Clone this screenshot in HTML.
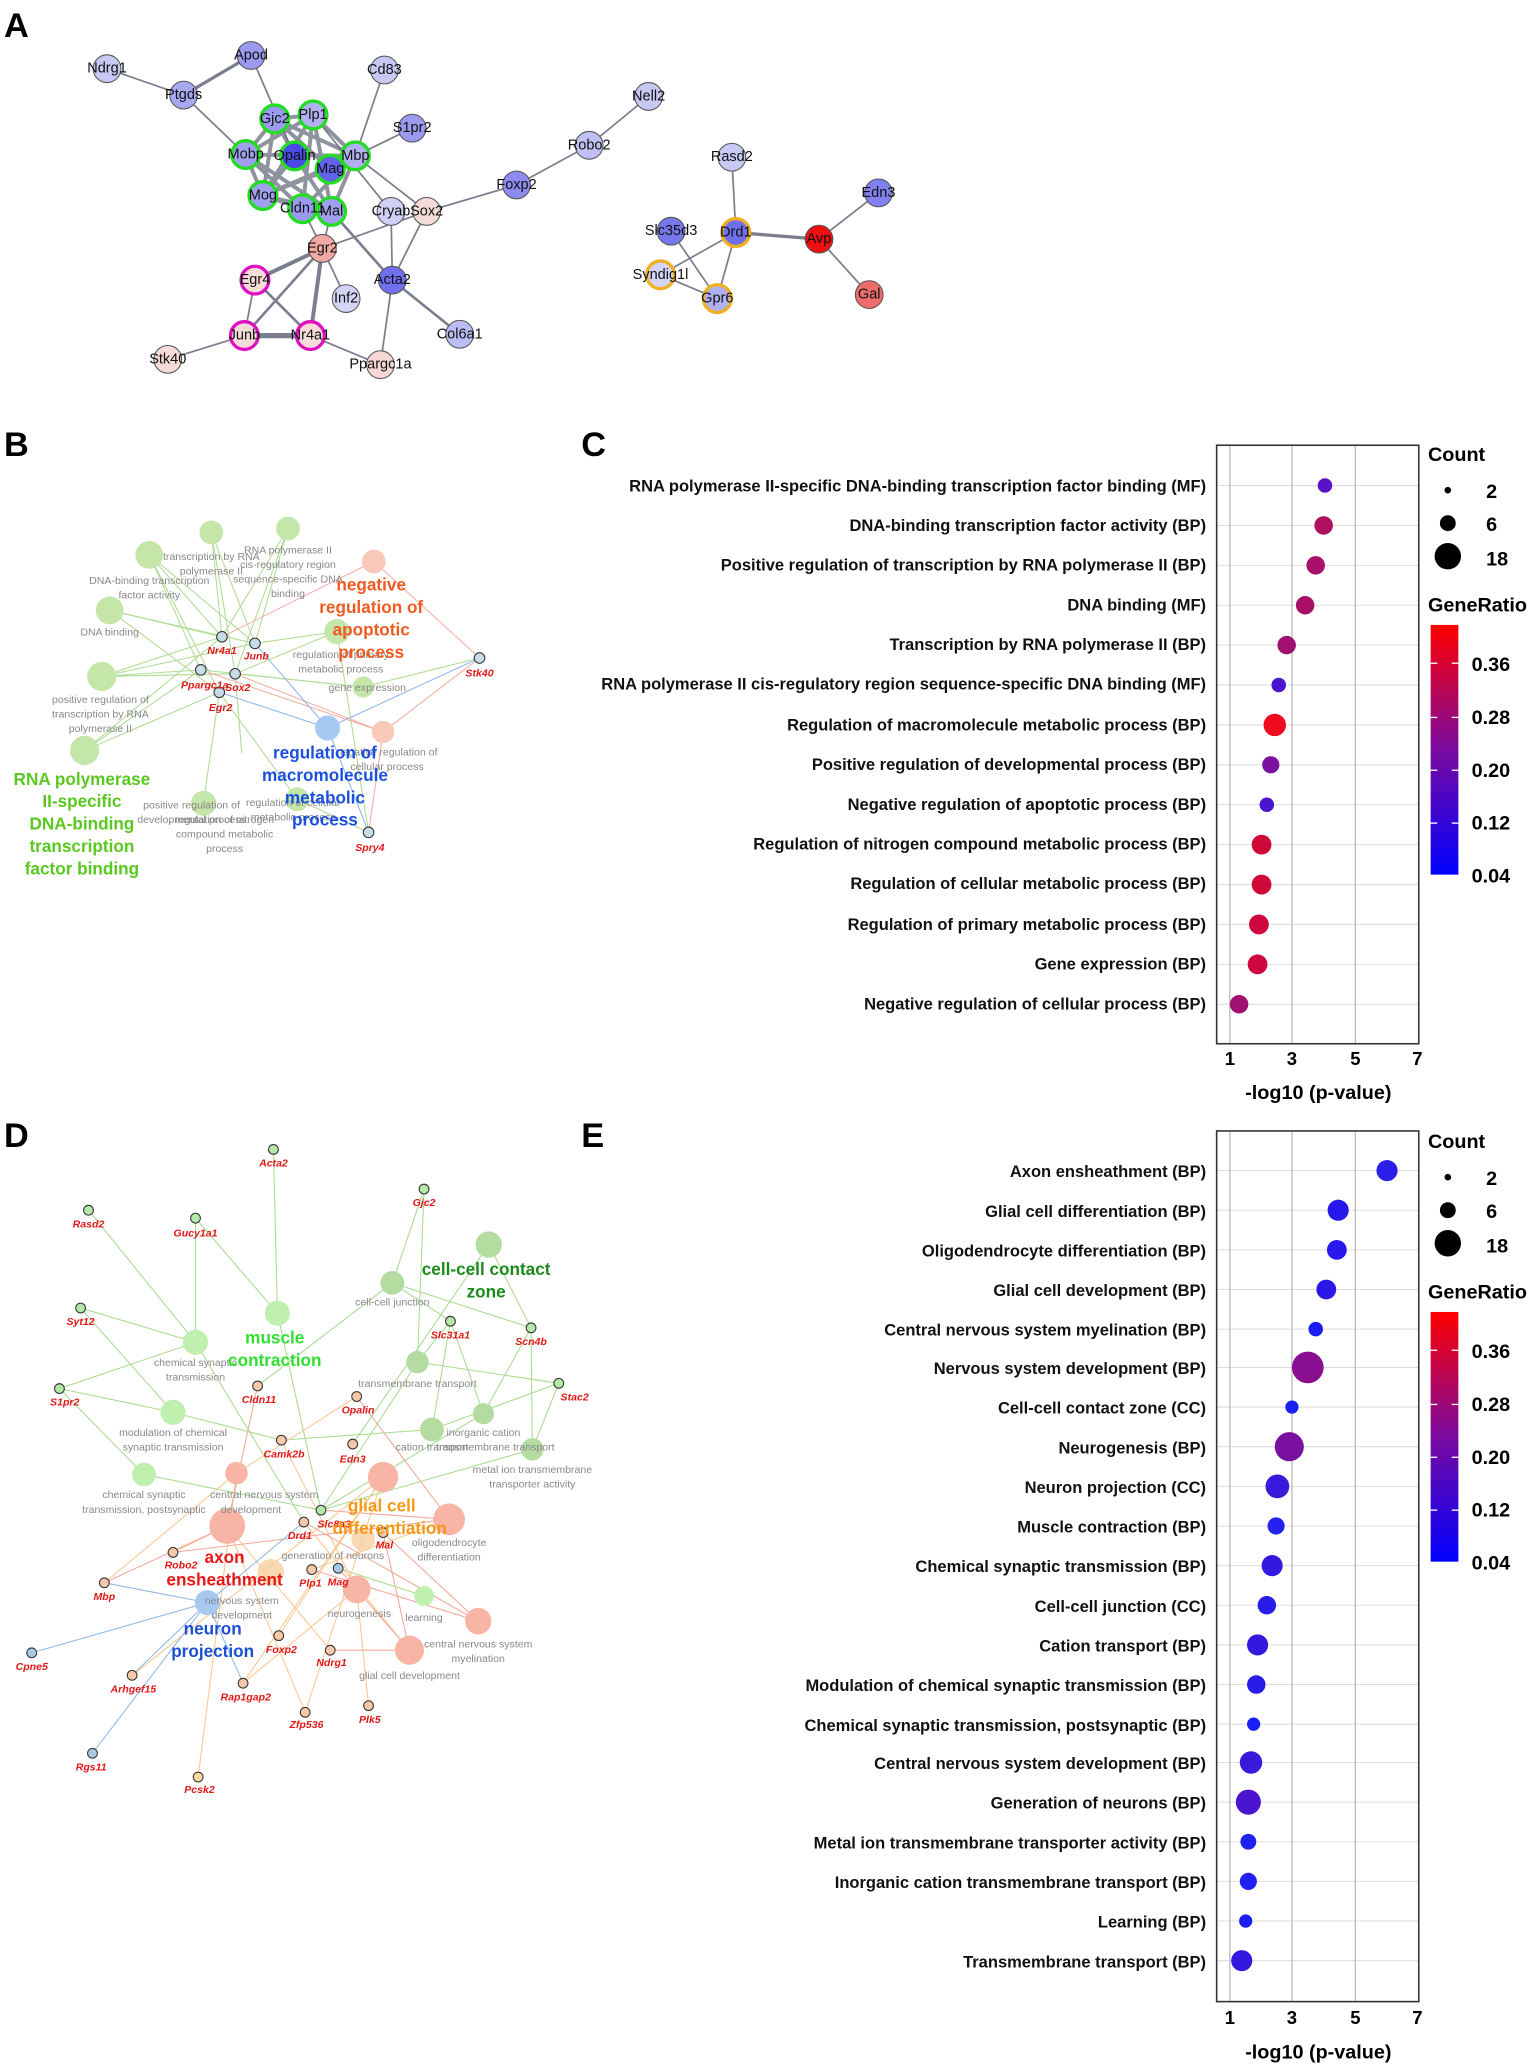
<!DOCTYPE html>
<html><head><meta charset="utf-8"><style>
html,body{margin:0;padding:0;background:#fff}
svg{display:block}
text{font-family:"Liberation Sans",Arial,sans-serif}
.pl{font-size:26px;font-weight:bold}
.na{font-size:11px;text-anchor:middle;dominant-baseline:central;fill:#111}
.tl{font-size:12.5px;font-weight:bold;text-anchor:end;fill:#111}
.tk{font-size:14px;font-weight:bold;text-anchor:middle}
.lg{font-size:15px;font-weight:bold}
.gt{font-size:8px;fill:#888;text-anchor:middle}
.gn{font-size:8px;fill:#e01818;font-style:italic;font-weight:bold;text-anchor:middle}
</style></head><body>
<svg width="1535" height="2069" viewBox="0 0 1162 1566" preserveAspectRatio="none" xmlns="http://www.w3.org/2000/svg">
<rect width="1162" height="1566" fill="#fff"/>
<text class="pl" x="3" y="28">A</text>
<text class="pl" x="3" y="345">B</text>
<text class="pl" x="440" y="345">C</text>
<text class="pl" x="3" y="868">D</text>
<text class="pl" x="440" y="868">E</text>

<!-- Panel A edges -->
<g stroke="#7a7e8e" stroke-width="1.3" fill="none">
<line x1="81" y1="52" x2="139" y2="72"/><line x1="139" y1="72" x2="190" y2="42" stroke-width="2.5"/>
<line x1="139" y1="72" x2="186" y2="117"/><line x1="190" y1="42" x2="223" y2="118"/>
<line x1="291" y1="53" x2="269" y2="118"/><line x1="312" y1="97" x2="269" y2="118"/>
<line x1="491" y1="73" x2="446" y2="110"/><line x1="446" y1="110" x2="391" y2="140"/>
<line x1="391" y1="140" x2="323" y2="160"/><line x1="323" y1="160" x2="244" y2="188"/>
<line x1="296" y1="160" x2="297" y2="212"/><line x1="323" y1="160" x2="297" y2="212"/>
<line x1="269" y1="118" x2="323" y2="160"/><line x1="237" y1="87" x2="296" y2="160"/>
<line x1="251" y1="160" x2="297" y2="212" stroke-width="2"/>
<line x1="244" y1="188" x2="193" y2="212" stroke-width="3"/><line x1="244" y1="188" x2="185" y2="254" stroke-width="2"/>
<line x1="244" y1="188" x2="235" y2="254" stroke-width="3"/><line x1="244" y1="188" x2="262" y2="226"/>
<line x1="193" y1="212" x2="185" y2="254"/><line x1="193" y1="212" x2="235" y2="254" stroke-width="2"/>
<line x1="185" y1="254" x2="235" y2="254" stroke-width="4"/><line x1="185" y1="254" x2="127" y2="272"/>
<line x1="235" y1="254" x2="288" y2="276"/><line x1="297" y1="212" x2="288" y2="276"/>
<line x1="297" y1="212" x2="348" y2="253" stroke-width="2"/>
<line x1="244" y1="188" x2="251" y2="160"/><line x1="244" y1="188" x2="229" y2="158"/>
<line x1="554" y1="119" x2="557" y2="176"/><line x1="557" y1="176" x2="620" y2="181" stroke-width="2.5"/>
<line x1="620" y1="181" x2="665" y2="146"/><line x1="620" y1="181" x2="658" y2="223"/>
<line x1="557" y1="176" x2="543" y2="226"/><line x1="557" y1="176" x2="500" y2="208"/>
<line x1="508" y1="175" x2="543" y2="226"/><line x1="500" y1="208" x2="543" y2="226"/>
</g>
<g stroke="#6a6e80" stroke-width="3" opacity="0.75">
<line x1="208" y1="90" x2="237" y2="87"/><line x1="208" y1="90" x2="186" y2="117"/><line x1="208" y1="90" x2="223" y2="118"/>
<line x1="208" y1="90" x2="269" y2="118"/><line x1="208" y1="90" x2="250" y2="128"/><line x1="208" y1="90" x2="199" y2="148"/>
<line x1="237" y1="87" x2="186" y2="117"/><line x1="237" y1="87" x2="269" y2="118"/><line x1="237" y1="87" x2="199" y2="148"/>
<line x1="237" y1="87" x2="229" y2="158"/><line x1="237" y1="87" x2="251" y2="160"/><line x1="186" y1="117" x2="269" y2="118"/>
<line x1="186" y1="117" x2="199" y2="148"/><line x1="186" y1="117" x2="229" y2="158"/><line x1="186" y1="117" x2="251" y2="160"/>
<line x1="223" y1="118" x2="199" y2="148"/><line x1="223" y1="118" x2="251" y2="160"/><line x1="269" y1="118" x2="199" y2="148"/>
<line x1="269" y1="118" x2="229" y2="158"/><line x1="269" y1="118" x2="251" y2="160"/><line x1="250" y1="128" x2="199" y2="148"/>
<line x1="199" y1="148" x2="229" y2="158"/><line x1="199" y1="148" x2="251" y2="160"/><line x1="229" y1="158" x2="251" y2="160"/>
</g>
<g stroke="#555" stroke-width="0.8">
<circle cx="81" cy="52" r="10.5" fill="#c8c8f4"/><circle cx="190" cy="42" r="10.5" fill="#9a9af0"/>
<circle cx="139" cy="72" r="10.5" fill="#a8a8f2"/><circle cx="291" cy="53" r="10.5" fill="#c8c8f4"/>
<circle cx="491" cy="73" r="10.5" fill="#c8c8f4"/><circle cx="312" cy="97" r="10.5" fill="#9a9af0"/>
<circle cx="446" cy="110" r="10.5" fill="#c0c0f4"/><circle cx="391" cy="140" r="10.5" fill="#8c8cf0"/>
<circle cx="296" cy="160" r="10.5" fill="#d0d0f6"/><circle cx="323" cy="160" r="10.5" fill="#f6dcd8"/>
<circle cx="244" cy="188" r="10.5" fill="#f2a8a4"/><circle cx="262" cy="226" r="10.5" fill="#d4d4f6"/>
<circle cx="297" cy="212" r="10.5" fill="#7070ee"/><circle cx="348" cy="253" r="10.5" fill="#bcbcf4"/>
<circle cx="127" cy="272" r="10.5" fill="#f6dcd8"/><circle cx="288" cy="276" r="10.5" fill="#f6d8d4"/>
<circle cx="554" cy="119" r="10.5" fill="#c8c8f4"/><circle cx="665" cy="146" r="10.5" fill="#8080ee"/>
<circle cx="508" cy="175" r="10.5" fill="#7878ee"/><circle cx="620" cy="181" r="10.5" fill="#ee1010"/>
<circle cx="658" cy="223" r="10.5" fill="#ee6c6c"/>
</g>
<g stroke="#22dd22" stroke-width="2.5">
<circle cx="208" cy="90" r="10.5" fill="#9a9af0"/><circle cx="237" cy="87" r="10.5" fill="#b0b0f2"/>
<circle cx="186" cy="117" r="10.5" fill="#a0a0f0"/><circle cx="269" cy="118" r="10.5" fill="#b0b0f2"/>
<circle cx="223" cy="118" r="10.5" fill="#4a4ae8"/><circle cx="250" cy="128" r="10.5" fill="#6262ea"/>
<circle cx="199" cy="148" r="10.5" fill="#a0a0f0"/><circle cx="229" cy="158" r="10.5" fill="#9a9af0"/>
<circle cx="251" cy="160" r="10.5" fill="#a0a0f0"/>
</g>
<g stroke="#e010c0" stroke-width="2.5">
<circle cx="193" cy="212" r="10.5" fill="#f6dcd8"/><circle cx="185" cy="254" r="10.5" fill="#f6dcd8"/><circle cx="235" cy="254" r="10.5" fill="#f6dcd8"/>
</g>
<g stroke="#f0b020" stroke-width="2.5">
<circle cx="557" cy="176" r="10.5" fill="#7070ee"/><circle cx="500" cy="208" r="10.5" fill="#d4d4f6"/><circle cx="543" cy="226" r="10.5" fill="#b0b0f2"/>
</g>
<g class="na">
<text class="na" x="81" y="52">Ndrg1</text><text class="na" x="190" y="42">Apod</text><text class="na" x="139" y="72">Ptgds</text>
<text class="na" x="291" y="53">Cd83</text><text class="na" x="491" y="73">Nell2</text><text class="na" x="312" y="97">S1pr2</text>
<text class="na" x="208" y="90">Gjc2</text><text class="na" x="237" y="87">Plp1</text><text class="na" x="446" y="110">Robo2</text>
<text class="na" x="186" y="117">Mobp</text><text class="na" x="223" y="118">Opalin</text><text class="na" x="269" y="118">Mbp</text>
<text class="na" x="250" y="128">Mag</text><text class="na" x="199" y="148">Mog</text><text class="na" x="229" y="158">Cldn11</text>
<text class="na" x="251" y="160">Mal</text><text class="na" x="296" y="160">Cryab</text><text class="na" x="323" y="160">Sox2</text>
<text class="na" x="391" y="140">Foxp2</text><text class="na" x="554" y="119">Rasd2</text><text class="na" x="665" y="146">Edn3</text>
<text class="na" x="508" y="175">Slc35d3</text><text class="na" x="557" y="176">Drd1</text><text class="na" x="620" y="181">Avp</text>
<text class="na" x="244" y="188">Egr2</text><text class="na" x="193" y="212">Egr4</text><text class="na" x="262" y="226">Inf2</text>
<text class="na" x="297" y="212">Acta2</text><text class="na" x="500" y="208">Syndig1l</text><text class="na" x="543" y="226">Gpr6</text>
<text class="na" x="658" y="223">Gal</text><text class="na" x="185" y="254">Junb</text><text class="na" x="235" y="254">Nr4a1</text>
<text class="na" x="348" y="253">Col6a1</text><text class="na" x="127" y="272">Stk40</text><text class="na" x="288" y="276">Ppargc1a</text>
</g>

<!-- Panel B -->
<g stroke="#9cd47a" stroke-width="0.8" opacity="0.8">
<line x1="168" y1="482" x2="113" y2="420"/><line x1="168" y1="482" x2="160" y2="403"/><line x1="168" y1="482" x2="218" y2="400"/>
<line x1="168" y1="482" x2="83" y2="462"/><line x1="168" y1="482" x2="77" y2="512"/><line x1="168" y1="482" x2="64" y2="568"/>
<line x1="193" y1="487" x2="113" y2="420"/><line x1="193" y1="487" x2="160" y2="403"/><line x1="193" y1="487" x2="218" y2="400"/>
<line x1="193" y1="487" x2="83" y2="462"/><line x1="193" y1="487" x2="77" y2="512"/><line x1="193" y1="487" x2="255" y2="478"/>
<line x1="152" y1="507" x2="113" y2="420"/><line x1="152" y1="507" x2="77" y2="512"/><line x1="152" y1="507" x2="64" y2="568"/>
<line x1="178" y1="510" x2="160" y2="403"/><line x1="178" y1="510" x2="218" y2="400"/><line x1="178" y1="510" x2="77" y2="512"/>
<line x1="178" y1="510" x2="183" y2="570"/><line x1="178" y1="510" x2="255" y2="478"/><line x1="178" y1="510" x2="275" y2="520"/>
<line x1="166" y1="524" x2="64" y2="568"/><line x1="166" y1="524" x2="154" y2="608"/><line x1="166" y1="524" x2="225" y2="605"/>
<line x1="166" y1="524" x2="83" y2="462"/><line x1="166" y1="524" x2="113" y2="420"/><line x1="363" y1="498" x2="275" y2="520"/>
<line x1="279" y1="630" x2="255" y2="478"/><line x1="279" y1="630" x2="225" y2="605"/><line x1="152" y1="507" x2="275" y2="520"/>
</g>
<g stroke="#f4b0a0" stroke-width="0.8">
<line x1="168" y1="482" x2="283" y2="425"/><line x1="363" y1="498" x2="283" y2="425"/><line x1="363" y1="498" x2="290" y2="554"/>
<line x1="279" y1="630" x2="290" y2="554"/><line x1="178" y1="510" x2="290" y2="554"/><line x1="152" y1="507" x2="290" y2="554"/>
</g>
<g stroke="#90b8f0" stroke-width="0.8">
<line x1="193" y1="487" x2="248" y2="551"/><line x1="166" y1="524" x2="248" y2="551"/><line x1="363" y1="498" x2="248" y2="551"/><line x1="279" y1="630" x2="248" y2="551"/>
</g>
<g fill="#c4e6a8">
<circle cx="113" cy="420" r="10.5"/><circle cx="160" cy="403" r="9"/><circle cx="218" cy="400" r="9"/>
<circle cx="83" cy="462" r="10.5"/><circle cx="77" cy="512" r="11"/><circle cx="64" cy="568" r="11"/>
<circle cx="154" cy="608" r="9.5"/><circle cx="225" cy="605" r="9"/><circle cx="255" cy="478" r="9.5"/><circle cx="275" cy="520" r="8"/>
</g>
<circle cx="283" cy="425" r="9" fill="#f8c8b8"/><circle cx="290" cy="554" r="8.5" fill="#f8c8b8"/>
<circle cx="248" cy="551" r="9.5" fill="#a8c8f4"/>
<g stroke="#333" stroke-width="0.8" fill="#c8dce8">
<circle cx="168" cy="482" r="4"/><circle cx="193" cy="487" r="4"/><circle cx="152" cy="507" r="4"/>
<circle cx="178" cy="510" r="4"/><circle cx="166" cy="524" r="4"/><circle cx="363" cy="498" r="4"/><circle cx="279" cy="630" r="4"/>
</g>
<text class="gt" x="160" y="424">transcription by RNA</text><text class="gt" x="160" y="435">polymerase II</text>
<text class="gt" x="218" y="419">RNA polymerase II</text><text class="gt" x="218" y="430">cis-regulatory region</text>
<text class="gt" x="218" y="441">sequence-specific DNA</text><text class="gt" x="218" y="452">binding</text>
<text class="gt" x="113" y="442">DNA-binding transcription</text><text class="gt" x="113" y="453">factor activity</text>
<text class="gt" x="83" y="481">DNA binding</text>
<text class="gt" x="76" y="532">positive regulation of</text><text class="gt" x="76" y="543">transcription by RNA</text><text class="gt" x="76" y="554">polymerase II</text>
<text class="gt" x="258" y="498">regulation of primary</text><text class="gt" x="258" y="509">metabolic process</text>
<text class="gt" x="278" y="523">gene expression</text>
<text class="gt" x="293" y="572">negative regulation of</text><text class="gt" x="293" y="583">cellular process</text>
<text class="gt" x="145" y="612">positive regulation of</text><text class="gt" x="145" y="623">developmental process</text>
<text class="gt" x="170" y="623">regulation of nitrogen</text><text class="gt" x="170" y="634">compound metabolic</text><text class="gt" x="170" y="645">process</text>
<text class="gt" x="222" y="610">regulation of cellular</text><text class="gt" x="222" y="621">metabolic process</text>
<text class="gn" x="168" y="495">Nr4a1</text><text class="gn" x="194" y="499">Junb</text><text class="gn" x="155" y="521">Ppargc1a</text>
<text class="gn" x="180" y="523">Sox2</text><text class="gn" x="167" y="538">Egr2</text><text class="gn" x="363" y="512">Stk40</text><text class="gn" x="280" y="644">Spry4</text>
<g font-weight="bold" font-size="13" text-anchor="middle" fill="#f05a20">
<text x="281" y="447">negative</text><text x="281" y="464">regulation of</text><text x="281" y="481">apoptotic</text><text x="281" y="498">process</text></g>
<g font-weight="bold" font-size="13" text-anchor="middle" fill="#1a50e0">
<text x="246" y="574">regulation of</text><text x="246" y="591">macromolecule</text><text x="246" y="608">metabolic</text><text x="246" y="625">process</text></g>
<g font-weight="bold" font-size="13" text-anchor="middle" fill="#5ac820">
<text x="62" y="594">RNA polymerase</text><text x="62" y="611">II-specific</text><text x="62" y="628">DNA-binding</text>
<text x="62" y="645">transcription</text><text x="62" y="662">factor binding</text></g>

<!-- Panel D -->
<g stroke="#a8dc90" stroke-width="0.8">
<line x1="207" y1="870" x2="210" y2="994"/><line x1="67" y1="916" x2="148" y2="1016"/><line x1="148" y1="922" x2="148" y2="1016"/>
<line x1="148" y1="922" x2="210" y2="994"/><line x1="61" y1="990" x2="148" y2="1016"/><line x1="61" y1="990" x2="131" y2="1069"/>
<line x1="45" y1="1051" x2="148" y2="1016"/><line x1="45" y1="1051" x2="131" y2="1069"/><line x1="45" y1="1051" x2="109" y2="1116"/>
<line x1="321" y1="900" x2="297" y2="971"/><line x1="321" y1="900" x2="316" y2="1031"/><line x1="341" y1="1000" x2="297" y2="971"/>
<line x1="341" y1="1000" x2="316" y2="1031"/><line x1="341" y1="1000" x2="366" y2="1070"/><line x1="341" y1="1000" x2="327" y2="1082"/>
<line x1="402" y1="1005" x2="370" y2="942"/><line x1="402" y1="1005" x2="297" y2="971"/><line x1="402" y1="1005" x2="403" y2="1097"/>
<line x1="402" y1="1005" x2="366" y2="1070"/><line x1="423" y1="1047" x2="316" y2="1031"/><line x1="423" y1="1047" x2="327" y2="1082"/>
<line x1="423" y1="1047" x2="403" y2="1097"/><line x1="195" y1="1049" x2="297" y2="971"/><line x1="213" y1="1090" x2="327" y2="1082"/>
<line x1="213" y1="1090" x2="131" y2="1069"/><line x1="243" y1="1143" x2="316" y2="1031"/><line x1="243" y1="1143" x2="366" y2="1070"/>
<line x1="243" y1="1143" x2="210" y2="994"/><line x1="243" y1="1143" x2="109" y2="1116"/><line x1="267" y1="1093" x2="370" y2="942"/>
<line x1="230" y1="1152" x2="148" y2="1016"/><line x1="256" y1="1187" x2="321" y2="1208"/><line x1="243" y1="1143" x2="403" y2="1097"/>
</g>
<g stroke="#f8c890" stroke-width="0.8">
<line x1="131" y1="1175" x2="172" y2="1155"/><line x1="79" y1="1198" x2="179" y2="1115"/><line x1="211" y1="1238" x2="290" y2="1118"/>
<line x1="250" y1="1249" x2="172" y2="1155"/><line x1="184" y1="1274" x2="290" y2="1118"/><line x1="231" y1="1296" x2="172" y2="1155"/>
<line x1="279" y1="1291" x2="270" y2="1203"/><line x1="150" y1="1345" x2="179" y2="1115"/><line x1="236" y1="1188" x2="340" y2="1150"/>
<line x1="213" y1="1090" x2="270" y2="1203"/><line x1="270" y1="1057" x2="179" y2="1115"/><line x1="230" y1="1152" x2="310" y2="1249"/>
<line x1="184" y1="1274" x2="270" y2="1203"/><line x1="231" y1="1296" x2="290" y2="1118"/><line x1="100" y1="1268" x2="290" y2="1118"/>
</g>
<g stroke="#f4a898" stroke-width="0.8">
<line x1="131" y1="1175" x2="340" y2="1150"/><line x1="79" y1="1198" x2="172" y2="1155"/><line x1="236" y1="1188" x2="362" y2="1227"/>
<line x1="256" y1="1187" x2="310" y2="1249"/><line x1="290" y1="1160" x2="362" y2="1227"/><line x1="270" y1="1057" x2="340" y2="1150"/>
<line x1="195" y1="1049" x2="172" y2="1155"/><line x1="250" y1="1249" x2="310" y2="1249"/><line x1="230" y1="1152" x2="362" y2="1227"/>
<line x1="290" y1="1160" x2="310" y2="1249"/><line x1="243" y1="1143" x2="340" y2="1150"/>
</g>
<g stroke="#90b8e8" stroke-width="0.8">
<line x1="24" y1="1251" x2="157" y2="1213"/><line x1="70" y1="1327" x2="157" y2="1213"/><line x1="79" y1="1198" x2="157" y2="1213"/>
<line x1="184" y1="1274" x2="157" y2="1213"/><line x1="100" y1="1268" x2="157" y2="1213"/><line x1="230" y1="1152" x2="157" y2="1213"/>
</g>
<g fill="#b4dca0">
<circle cx="370" cy="942" r="10"/><circle cx="297" cy="971" r="9"/><circle cx="316" cy="1031" r="8.5"/>
<circle cx="327" cy="1082" r="9"/><circle cx="366" cy="1070" r="8"/><circle cx="403" cy="1097" r="8.5"/>
</g>
<g fill="#bff0b0">
<circle cx="210" cy="994" r="9.5"/><circle cx="148" cy="1016" r="9.5"/><circle cx="131" cy="1069" r="9.5"/><circle cx="109" cy="1116" r="9"/><circle cx="321" cy="1208" r="7.5"/>
</g>
<g fill="#f8b4a4">
<circle cx="172" cy="1155" r="13.5"/><circle cx="340" cy="1150" r="12"/><circle cx="290" cy="1118" r="11.5"/>
<circle cx="179" cy="1115" r="8.5"/><circle cx="270" cy="1203" r="10.5"/><circle cx="310" cy="1249" r="11"/><circle cx="362" cy="1227" r="10"/>
</g>
<circle cx="157" cy="1213" r="9.5" fill="#a8c8f0"/>
<circle cx="205" cy="1190" r="10" fill="#f8d0a0" opacity="0.8"/><circle cx="275" cy="1165" r="9" fill="#f8d0a0" opacity="0.8"/>
<g stroke="#333" stroke-width="0.8" fill="#b4e8a8">
<circle cx="207" cy="870" r="3.7"/><circle cx="67" cy="916" r="3.7"/><circle cx="148" cy="922" r="3.7"/><circle cx="321" cy="900" r="3.7"/>
<circle cx="61" cy="990" r="3.7"/><circle cx="341" cy="1000" r="3.7"/><circle cx="402" cy="1005" r="3.7"/><circle cx="45" cy="1051" r="3.7"/>
<circle cx="423" cy="1047" r="3.7"/><circle cx="243" cy="1143" r="3.7"/>
</g>
<g stroke="#333" stroke-width="0.8" fill="#f4c8a8">
<circle cx="195" cy="1049" r="3.7"/><circle cx="270" cy="1057" r="3.7"/><circle cx="213" cy="1090" r="3.7"/><circle cx="267" cy="1093" r="3.7"/>
<circle cx="230" cy="1152" r="3.7"/><circle cx="290" cy="1160" r="3.7"/><circle cx="131" cy="1175" r="3.7"/><circle cx="79" cy="1198" r="3.7"/>
<circle cx="236" cy="1188" r="3.7"/><circle cx="256" cy="1187" r="3.7" fill="#a8c8e8"/><circle cx="211" cy="1238" r="3.7"/><circle cx="250" cy="1249" r="3.7"/>
<circle cx="100" cy="1268" r="3.7"/><circle cx="184" cy="1274" r="3.7"/><circle cx="231" cy="1296" r="3.7"/><circle cx="279" cy="1291" r="3.7"/>
<circle cx="150" cy="1345" r="3.7" fill="#f8d8a0"/><circle cx="24" cy="1251" r="3.7" fill="#a8c8e8"/><circle cx="70" cy="1327" r="3.7" fill="#a8c8e8"/>
</g>
<g class="gn">
<text class="gn" x="207" y="883">Acta2</text><text class="gn" x="67" y="929">Rasd2</text><text class="gn" x="148" y="936">Gucy1a1</text>
<text class="gn" x="321" y="913">Gjc2</text><text class="gn" x="61" y="1003">Syt12</text><text class="gn" x="341" y="1013">Slc31a1</text>
<text class="gn" x="402" y="1018">Scn4b</text><text class="gn" x="49" y="1064">S1pr2</text><text class="gn" x="435" y="1060">Stac2</text>
<text class="gn" x="196" y="1062">Cldn11</text><text class="gn" x="271" y="1070">Opalin</text><text class="gn" x="215" y="1103">Camk2b</text>
<text class="gn" x="267" y="1107">Edn3</text><text class="gn" x="253" y="1156">Slc8a3</text><text class="gn" x="227" y="1165">Drd1</text>
<text class="gn" x="291" y="1172">Mal</text><text class="gn" x="137" y="1187">Robo2</text><text class="gn" x="79" y="1211">Mbp</text>
<text class="gn" x="235" y="1201">Plp1</text><text class="gn" x="256" y="1200">Mag</text><text class="gn" x="213" y="1251">Foxp2</text>
<text class="gn" x="251" y="1261">Ndrg1</text><text class="gn" x="24" y="1264">Cpne5</text><text class="gn" x="101" y="1281">Arhgef15</text>
<text class="gn" x="186" y="1287">Rap1gap2</text><text class="gn" x="232" y="1308">Zfp536</text><text class="gn" x="280" y="1304">Plk5</text>
<text class="gn" x="69" y="1340">Rgs11</text><text class="gn" x="151" y="1357">Pcsk2</text>
</g>
<text class="gt" x="297" y="988">cell-cell junction</text>
<text class="gt" x="148" y="1034">chemical synaptic</text><text class="gt" x="148" y="1045">transmission</text>
<text class="gt" x="316" y="1050">transmembrane transport</text>
<text class="gt" x="131" y="1087">modulation of chemical</text><text class="gt" x="131" y="1098">synaptic transmission</text>
<text class="gt" x="366" y="1087">inorganic cation</text><text class="gt" x="375" y="1098">transmembrane transport</text>
<text class="gt" x="327" y="1098">cation transport</text>
<text class="gt" x="403" y="1115">metal ion transmembrane</text><text class="gt" x="403" y="1126">transporter activity</text>
<text class="gt" x="109" y="1134">chemical synaptic</text><text class="gt" x="109" y="1145">transmission, postsynaptic</text>
<text class="gt" x="200" y="1134">central nervous system</text><text class="gt" x="190" y="1145">development</text>
<text class="gt" x="340" y="1170">oligodendrocyte</text><text class="gt" x="340" y="1181">differentiation</text>
<text class="gt" x="252" y="1180">generation of neurons</text>
<text class="gt" x="183" y="1214">nervous system</text><text class="gt" x="183" y="1225">development</text>
<text class="gt" x="272" y="1224">neurogenesis</text><text class="gt" x="321" y="1227">learning</text>
<text class="gt" x="362" y="1247">central nervous system</text><text class="gt" x="362" y="1258">myelination</text>
<text class="gt" x="310" y="1271">glial cell development</text>
<g font-weight="bold" font-size="13" text-anchor="middle">
<text x="368" y="965" fill="#1a8a1a">cell-cell contact</text><text x="368" y="982" fill="#1a8a1a">zone</text>
<text x="208" y="1017" fill="#30e030">muscle</text><text x="208" y="1034" fill="#30e030">contraction</text>
<text x="289" y="1144" fill="#f49818">glial cell</text><text x="295" y="1161" fill="#f49818">differentiation</text>
<text x="170" y="1183" fill="#e81818">axon</text><text x="170" y="1200" fill="#e81818">ensheathment</text>
<text x="161" y="1237" fill="#1a50d0">neuron</text><text x="161" y="1254" fill="#1a50d0">projection</text>
</g>

<!-- Panel C -->
<defs><linearGradient id="gr" x1="0" y1="1" x2="0" y2="0">
<stop offset="0" stop-color="#0000ff"/><stop offset="0.5" stop-color="#7a0aa0"/><stop offset="1" stop-color="#ff0000"/></linearGradient></defs>
<g id="C">
<g stroke="#ddd" stroke-width="0.8">
<line x1="921" y1="367.5" x2="1074" y2="367.5"/><line x1="921" y1="397.7" x2="1074" y2="397.7"/><line x1="921" y1="427.9" x2="1074" y2="427.9"/>
<line x1="921" y1="458.1" x2="1074" y2="458.1"/><line x1="921" y1="488.3" x2="1074" y2="488.3"/><line x1="921" y1="518.5" x2="1074" y2="518.5"/>
<line x1="921" y1="548.7" x2="1074" y2="548.7"/><line x1="921" y1="578.9" x2="1074" y2="578.9"/><line x1="921" y1="609.1" x2="1074" y2="609.1"/>
<line x1="921" y1="639.3" x2="1074" y2="639.3"/><line x1="921" y1="669.5" x2="1074" y2="669.5"/><line x1="921" y1="699.7" x2="1074" y2="699.7"/>
<line x1="921" y1="729.9" x2="1074" y2="729.9"/><line x1="921" y1="760.1" x2="1074" y2="760.1"/>
</g>
<g stroke="#bbb" stroke-width="1"><line x1="931" y1="337" x2="931" y2="790"/><line x1="978" y1="337" x2="978" y2="790"/><line x1="1026" y1="337" x2="1026" y2="790"/></g>
<rect x="921" y="337" width="153" height="453" fill="none" stroke="#333" stroke-width="1.2"/>
<text class="tl" x="913" y="372">RNA polymerase II-specific DNA-binding transcription factor binding (MF)</text>
<text class="tl" x="913" y="402">DNA-binding transcription factor activity (BP)</text>
<text class="tl" x="913" y="432">Positive regulation of transcription by RNA polymerase II (BP)</text>
<text class="tl" x="913" y="462">DNA binding (MF)</text>
<text class="tl" x="913" y="492">Transcription by RNA polymerase II (BP)</text>
<text class="tl" x="913" y="522">RNA polymerase II cis-regulatory region sequence-specific DNA binding (MF)</text>
<text class="tl" x="913" y="553">Regulation of macromolecule metabolic process (BP)</text>
<text class="tl" x="913" y="583">Positive regulation of developmental process (BP)</text>
<text class="tl" x="913" y="613">Negative regulation of apoptotic process (BP)</text>
<text class="tl" x="913" y="643">Regulation of nitrogen compound metabolic process (BP)</text>
<text class="tl" x="913" y="673">Regulation of cellular metabolic process (BP)</text>
<text class="tl" x="913" y="704">Regulation of primary metabolic process (BP)</text>
<text class="tl" x="913" y="734">Gene expression (BP)</text>
<text class="tl" x="913" y="764">Negative regulation of cellular process (BP)</text>
<circle cx="1003" cy="367.5" r="5.5" fill="#5a12c8"/><circle cx="1002" cy="397.7" r="7" fill="#b0105e"/>
<circle cx="996" cy="427.9" r="7" fill="#a8106a"/><circle cx="988" cy="458.1" r="7" fill="#a81068"/>
<circle cx="974" cy="488.3" r="7" fill="#a01070"/><circle cx="968" cy="518.5" r="5.5" fill="#4a14d0"/>
<circle cx="965" cy="548.7" r="8.5" fill="#f00a1e"/><circle cx="962" cy="578.9" r="6.5" fill="#7a10a0"/>
<circle cx="959" cy="609.1" r="5.5" fill="#4816d0"/><circle cx="955" cy="639.3" r="7.5" fill="#d0083a"/>
<circle cx="955" cy="669.5" r="7.5" fill="#d0083a"/><circle cx="953" cy="699.7" r="7.5" fill="#d00840"/>
<circle cx="952" cy="729.9" r="7.5" fill="#d00840"/><circle cx="938" cy="760.1" r="7" fill="#a01070"/>
<text class="tk" x="931" y="806">1</text><text class="tk" x="978" y="806">3</text><text class="tk" x="1026" y="806">5</text><text class="tk" x="1073" y="806">7</text>
<text class="lg" x="998" y="832" text-anchor="middle">-log10 (p-value)</text>
<text class="lg" x="1081" y="349">Count</text>
<circle cx="1096" cy="371" r="2.5"/><circle cx="1096" cy="396" r="6"/><circle cx="1096" cy="421" r="10"/>
<text class="lg" x="1125" y="377">2</text><text class="lg" x="1125" y="402">6</text><text class="lg" x="1125" y="428">18</text>
<text class="lg" x="1081" y="463">GeneRatio</text>
<rect x="1083" y="473" width="21" height="189" fill="url(#gr)"/>
<g stroke="#fff" stroke-width="1"><line x1="1083" y1="502" x2="1088" y2="502"/><line x1="1099" y1="502" x2="1104" y2="502"/>
<line x1="1083" y1="543" x2="1088" y2="543"/><line x1="1099" y1="543" x2="1104" y2="543"/>
<line x1="1083" y1="583" x2="1088" y2="583"/><line x1="1099" y1="583" x2="1104" y2="583"/>
<line x1="1083" y1="623" x2="1088" y2="623"/><line x1="1099" y1="623" x2="1104" y2="623"/></g>
<text class="lg" x="1114" y="508">0.36</text><text class="lg" x="1114" y="548">0.28</text><text class="lg" x="1114" y="588">0.20</text>
<text class="lg" x="1114" y="628">0.12</text><text class="lg" x="1114" y="668">0.04</text>
</g>

<!-- Panel E -->
<g stroke="#ddd" stroke-width="0.8">
<line x1="921" y1="886" x2="1074" y2="886"/><line x1="921" y1="916" x2="1074" y2="916"/><line x1="921" y1="946" x2="1074" y2="946"/>
<line x1="921" y1="976" x2="1074" y2="976"/><line x1="921" y1="1006" x2="1074" y2="1006"/><line x1="921" y1="1035" x2="1074" y2="1035"/>
<line x1="921" y1="1065" x2="1074" y2="1065"/><line x1="921" y1="1095" x2="1074" y2="1095"/><line x1="921" y1="1125" x2="1074" y2="1125"/>
<line x1="921" y1="1155" x2="1074" y2="1155"/><line x1="921" y1="1185" x2="1074" y2="1185"/><line x1="921" y1="1215" x2="1074" y2="1215"/>
<line x1="921" y1="1245" x2="1074" y2="1245"/><line x1="921" y1="1275" x2="1074" y2="1275"/><line x1="921" y1="1305" x2="1074" y2="1305"/>
<line x1="921" y1="1334" x2="1074" y2="1334"/><line x1="921" y1="1364" x2="1074" y2="1364"/><line x1="921" y1="1394" x2="1074" y2="1394"/>
<line x1="921" y1="1424" x2="1074" y2="1424"/><line x1="921" y1="1454" x2="1074" y2="1454"/><line x1="921" y1="1484" x2="1074" y2="1484"/>
</g>
<g stroke="#bbb" stroke-width="1"><line x1="931" y1="856" x2="931" y2="1515"/><line x1="978" y1="856" x2="978" y2="1515"/><line x1="1026" y1="856" x2="1026" y2="1515"/></g>
<rect x="921" y="856" width="153" height="659" fill="none" stroke="#333" stroke-width="1.2"/>
<text class="tl" x="913" y="891">Axon ensheathment (BP)</text>
<text class="tl" x="913" y="921">Glial cell differentiation (BP)</text>
<text class="tl" x="913" y="951">Oligodendrocyte differentiation (BP)</text>
<text class="tl" x="913" y="981">Glial cell development (BP)</text>
<text class="tl" x="913" y="1011">Central nervous system myelination (BP)</text>
<text class="tl" x="913" y="1040">Nervous system development (BP)</text>
<text class="tl" x="913" y="1070">Cell-cell contact zone (CC)</text>
<text class="tl" x="913" y="1100">Neurogenesis (BP)</text>
<text class="tl" x="913" y="1130">Neuron projection (CC)</text>
<text class="tl" x="913" y="1160">Muscle contraction (BP)</text>
<text class="tl" x="913" y="1190">Chemical synaptic transmission (BP)</text>
<text class="tl" x="913" y="1220">Cell-cell junction (CC)</text>
<text class="tl" x="913" y="1250">Cation transport (BP)</text>
<text class="tl" x="913" y="1280">Modulation of chemical synaptic transmission (BP)</text>
<text class="tl" x="913" y="1310">Chemical synaptic transmission, postsynaptic (BP)</text>
<text class="tl" x="913" y="1339">Central nervous system development (BP)</text>
<text class="tl" x="913" y="1369">Generation of neurons (BP)</text>
<text class="tl" x="913" y="1399">Metal ion transmembrane transporter activity (BP)</text>
<text class="tl" x="913" y="1429">Inorganic cation transmembrane transport (BP)</text>
<text class="tl" x="913" y="1459">Learning (BP)</text>
<text class="tl" x="913" y="1489">Transmembrane transport (BP)</text>
<circle cx="1050" cy="886" r="8" fill="#2a1ee8"/><circle cx="1013" cy="916" r="8" fill="#2618ec"/>
<circle cx="1012" cy="946" r="7.5" fill="#2818ec"/><circle cx="1004" cy="976" r="7.5" fill="#2a18ea"/>
<circle cx="996" cy="1006" r="5.5" fill="#1c1cf2"/><circle cx="990" cy="1035" r="12" fill="#8a0e90"/>
<circle cx="978" cy="1065" r="5" fill="#1a20f4"/><circle cx="976" cy="1095" r="11" fill="#7a10a0"/>
<circle cx="967" cy="1125" r="9" fill="#3a18dc"/><circle cx="966" cy="1155" r="6.5" fill="#2420ee"/>
<circle cx="963" cy="1185" r="8" fill="#3418e0"/><circle cx="959" cy="1215" r="7" fill="#2a1ce8"/>
<circle cx="952" cy="1245" r="8" fill="#3418e0"/><circle cx="951" cy="1275" r="7" fill="#2a1ce8"/>
<circle cx="949" cy="1305" r="5" fill="#1a20f4"/><circle cx="947" cy="1334" r="8.5" fill="#3a18dc"/>
<circle cx="945" cy="1364" r="9.5" fill="#4a14d0"/><circle cx="945" cy="1394" r="6" fill="#2020f0"/>
<circle cx="945" cy="1424" r="6.5" fill="#2020f0"/><circle cx="943" cy="1454" r="5" fill="#1a20f4"/>
<circle cx="940" cy="1484" r="8" fill="#3418e0"/>
<text class="tk" x="931" y="1532">1</text><text class="tk" x="978" y="1532">3</text><text class="tk" x="1026" y="1532">5</text><text class="tk" x="1073" y="1532">7</text>
<text class="lg" x="998" y="1558" text-anchor="middle">-log10 (p-value)</text>
<text class="lg" x="1081" y="869">Count</text>
<circle cx="1096" cy="891" r="2.5"/><circle cx="1096" cy="916" r="6"/><circle cx="1096" cy="941" r="10"/>
<text class="lg" x="1125" y="897">2</text><text class="lg" x="1125" y="922">6</text><text class="lg" x="1125" y="948">18</text>
<text class="lg" x="1081" y="983">GeneRatio</text>
<rect x="1083" y="993" width="21" height="189" fill="url(#gr)"/>
<g stroke="#fff" stroke-width="1"><line x1="1083" y1="1022" x2="1088" y2="1022"/><line x1="1099" y1="1022" x2="1104" y2="1022"/>
<line x1="1083" y1="1063" x2="1088" y2="1063"/><line x1="1099" y1="1063" x2="1104" y2="1063"/>
<line x1="1083" y1="1103" x2="1088" y2="1103"/><line x1="1099" y1="1103" x2="1104" y2="1103"/>
<line x1="1083" y1="1143" x2="1088" y2="1143"/><line x1="1099" y1="1143" x2="1104" y2="1143"/></g>
<text class="lg" x="1114" y="1028">0.36</text><text class="lg" x="1114" y="1068">0.28</text><text class="lg" x="1114" y="1108">0.20</text>
<text class="lg" x="1114" y="1148">0.12</text><text class="lg" x="1114" y="1188">0.04</text>
</svg>
</body></html>
